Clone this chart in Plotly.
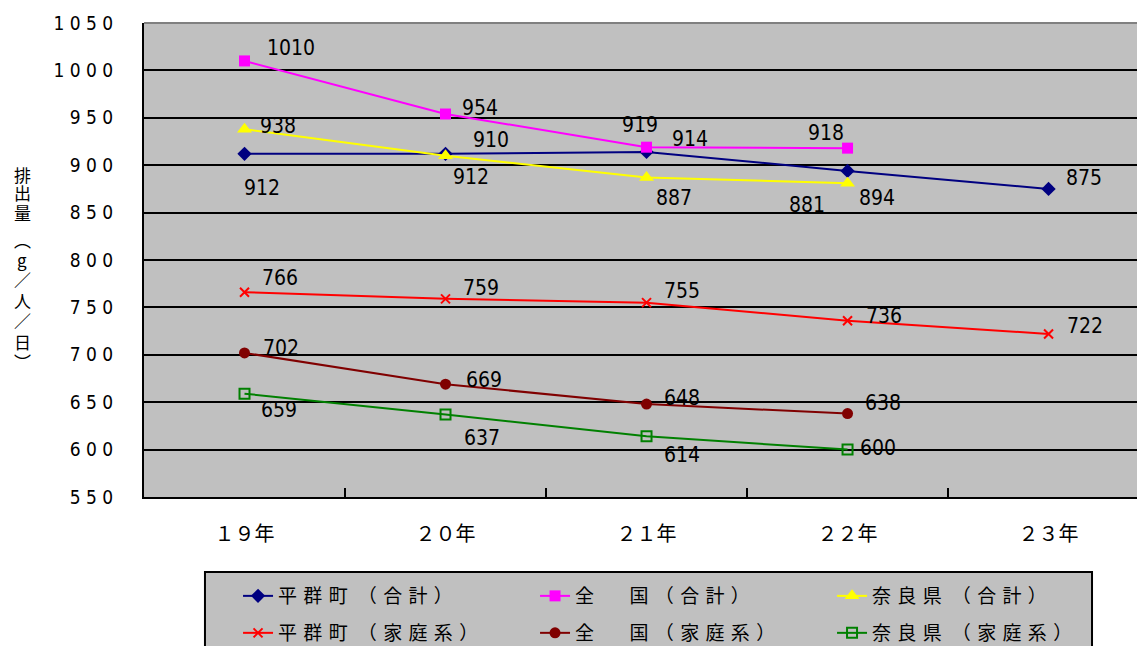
import plotly.graph_objects as go

# Fiscal years on the category axis
years = ["１９年", "２０年", "２１年", "２２年", "２３年"]

# Per-capita daily waste (g/person/day)
heguri_total = [912, 912, 914, 894, 875]
national_total = [1010, 954, 919, 918]
nara_total = [938, 910, 887, 881]
heguri_home = [766, 759, 755, 736, 722]
national_home = [702, 669, 648, 638]
nara_home = [659, 637, 614, 600]

y_ticks = [550, 600, 650, 700, 750, 800, 850, 900, 950, 1000, 1050]
y_ticktext = [" ".join(str(v)) for v in y_ticks]

SP = "\u2004"   # three-per-em space for letter spacing in legend names
TH = "\u2009"   # thin space


def spaced(parts):
    return SP.join(parts)


# Pixel offsets (right, down) of each value label from its point
series = [
    dict(name=spaced("平群町") + SP + TH + spaced("（合計）"), values=heguri_total,
         color="#000080", symbol="diamond", size=11, legend="legend",
         offsets=[(17, 34), (25, 23), (43, -13), (29, 27), (35, -11)]),
    dict(name="全" + SP + "\u3000" + SP + TH + "国" + SP + spaced("（合計）"),
         values=national_total, color="#FF00FF", symbol="square", size=11,
         legend="legend",
         offsets=[(46, -13), (34, -6), (-7, -22), (-22, -15)]),
    dict(name=spaced("奈良県") + SP + TH + spaced("（合計）"), values=nara_total,
         color="#FFFF00", symbol="triangle-up", size=13, legend="legend",
         offsets=[(33, -3), (45, -16), (27, 20), (-41, 22)]),
    dict(name=spaced("平群町") + SP + TH + spaced("（家庭系）"), values=heguri_home,
         color="#FF0000", symbol="x-thin", size=9, legend="legend2",
         offsets=[(35, -14), (35, -11), (35, -12), (36, -5), (36, -8)]),
    dict(name="全" + SP + "\u3000" + SP + TH + "国" + SP + spaced("（家庭系）"),
         values=national_home, color="#800000", symbol="circle", size=11,
         legend="legend2",
         offsets=[(36, -5), (38, -4), (35, -6), (35, -11)]),
    dict(name=spaced("奈良県") + SP + TH + spaced("（家庭系）"), values=nara_home,
         color="#008000", symbol="square-open", size=10, legend="legend2",
         offsets=[(34, 16), (36, 23), (35, 19), (30, -2)]),
]

label_font = dict(family="Liberation Sans Narrow, Arial Narrow, DejaVu Sans Condensed",
                  size=21, color="black")

fig = go.Figure()
annotations = []
for s in series:
    xs = years[:len(s["values"])]
    marker = dict(symbol=s["symbol"], size=s["size"], color=s["color"])
    if s["symbol"] in ("x-thin", "square-open"):
        marker["line"] = dict(color=s["color"], width=2)
    fig.add_trace(go.Scatter(
        x=xs, y=s["values"], mode="lines+markers", name=s["name"],
        line=dict(color=s["color"], width=2), marker=marker,
        legend=s["legend"], cliponaxis=False,
    ))
    for xv, yv, (dx, dy) in zip(xs, s["values"], s["offsets"]):
        annotations.append(dict(
            x=xv, y=yv, xref="x", yref="y", text=str(yv), showarrow=False,
            xshift=dx, yshift=-dy, font=label_font,
        ))

# Vertical axis title, stacked one character at a time
PLOT_TOP, PLOT_H, PLOT_L, PLOT_W = 23, 474, 144, 993
title_chars = "排出量︵g／人／日︶"
title_rows = [174, 193, 212, 239, 259, 279, 300, 320, 341, 361]
for ch, row in zip(title_chars, title_rows):
    annotations.append(dict(
        x=(22 - PLOT_L) / PLOT_W, y=(PLOT_TOP + PLOT_H - row) / PLOT_H,
        xref="paper", yref="paper", text=ch, showarrow=False,
        font=dict(family="Noto Sans CJK JP", size=17, color="black"),
        xanchor="center", yanchor="middle",
    ))

legend_common = dict(
    orientation="h", xanchor="left", yanchor="middle",
    entrywidth=252, entrywidthmode="pixels",
    bgcolor="rgba(0,0,0,0)", borderwidth=0, itemwidth=30,
    font=dict(family="Noto Sans CJK JP", size=19, color="black"),
    traceorder="normal",
)

fig.update_layout(
    width=1137, height=646,
    margin=dict(l=144, r=0, t=23, b=149, autoexpand=False),
    paper_bgcolor="white",
    plot_bgcolor="#C0C0C0",
    showlegend=True,
    legend=dict(x=0.0947, y=-0.2089, **legend_common),
    legend2=dict(x=0.0947, y=-0.2869, **legend_common),
    annotations=annotations,
    shapes=[
        # legend frame
        dict(type="rect", xref="paper", yref="paper",
             x0=0.0614, x1=0.9547, y0=-0.3228, y1=-0.1582,
             line=dict(color="black", width=2), fillcolor="#C0C0C0",
             layer="below"),
        # plot area top border
        dict(type="line", xref="paper", yref="paper",
             x0=0, x1=1, y0=1, y1=1,
             line=dict(color="#808080", width=2)),
    ],
    xaxis=dict(
        type="category", range=[-0.5, 4.44],
        showgrid=False, showline=True, linecolor="black", linewidth=2,
        ticks="inside", tickson="boundaries", ticklen=9,
        tickcolor="black", tickwidth=2,
        tickfont=dict(family="Noto Sans CJK JP", size=20, color="black"),
        ticklabelstandoff=18,
    ),
    yaxis=dict(
        range=[550, 1050], tickvals=y_ticks, ticktext=y_ticktext,
        showgrid=True, gridcolor="black", gridwidth=2,
        showline=True, linecolor="black", linewidth=2,
        ticks="", zeroline=False,
        tickfont=dict(family="Liberation Sans Narrow, Arial Narrow, DejaVu Sans Condensed",
                      size=19, color="black"),
        ticklabelstandoff=25,
    ),
)

fig.write_html("out.html")
